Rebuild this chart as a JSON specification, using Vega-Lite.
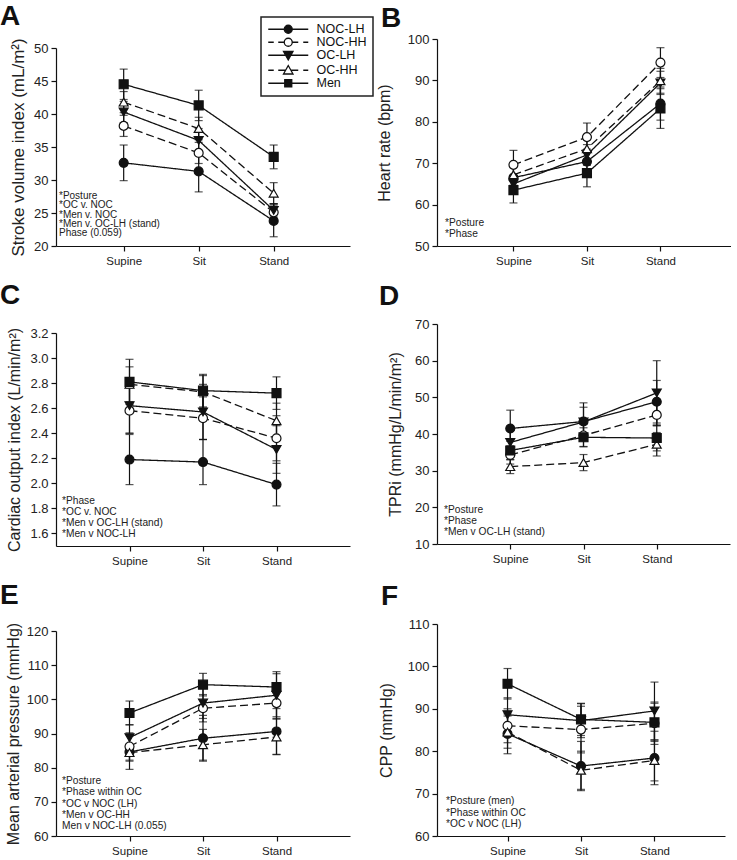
{
  "$schema": "https://vega.github.io/schema/vega-lite/v6.json",
  "background": "white",
  "padding": {"left": 0, "top": 2, "right": 0, "bottom": 0},
  "config": {
    "font": "Liberation Sans",
    "view": {"stroke": null},
    "axis": {"domainColor": "#111", "tickColor": "#111", "labelColor": "#222", "titleColor": "#222", "grid": false, "titleFontWeight": "normal", "domainWidth": 1.2, "tickWidth": 1.2, "tickSize": 5},
    "axisX": {"labelFontSize": 11.5, "labelAngle": 0, "labelPadding": 4},
    "axisY": {"labelFontSize": 13, "titleFontSize": 16, "labelPadding": 3},
    "title": {"fontSize": 28, "fontWeight": "bold", "anchor": "start", "frame": "group", "color": "#111", "baseline": "alphabetic"},
    "text": {"color": "#222", "align": "left", "baseline": "alphabetic", "fontSize": 10.2},
    "legend": {
      "orient": "none", "legendX": 205, "legendY": -22, "title": null,
      "strokeColor": "#222", "padding": 6, "symbolSize": 100, "labelFontSize": 12.5, "labelColor": "#111", "labelOffset": 37, "rowPadding": -1
    }
  },
  "datasets": {
    "main": [
      {"panel":"A","posture":"Supine","group":"NOC-LH","value":32.6,"se":2.7},
      {"panel":"A","posture":"Sit","group":"NOC-LH","value":31.3,"se":3.1},
      {"panel":"A","posture":"Stand","group":"NOC-LH","value":23.8,"se":2.4},
      {"panel":"A","posture":"Supine","group":"NOC-HH","value":38.2,"se":1.6},
      {"panel":"A","posture":"Sit","group":"NOC-HH","value":34.1,"se":1.6},
      {"panel":"A","posture":"Stand","group":"NOC-HH","value":25.1,"se":1.3},
      {"panel":"A","posture":"Supine","group":"OC-LH","value":40.3,"se":1.6},
      {"panel":"A","posture":"Sit","group":"OC-LH","value":36.0,"se":1.8},
      {"panel":"A","posture":"Stand","group":"OC-LH","value":25.4,"se":1.0},
      {"panel":"A","posture":"Supine","group":"OC-HH","value":41.8,"se":1.6},
      {"panel":"A","posture":"Sit","group":"OC-HH","value":37.8,"se":1.7},
      {"panel":"A","posture":"Stand","group":"OC-HH","value":28.0,"se":1.6},
      {"panel":"A","posture":"Supine","group":"Men","value":44.5,"se":2.3},
      {"panel":"A","posture":"Sit","group":"Men","value":41.3,"se":2.3},
      {"panel":"A","posture":"Stand","group":"Men","value":33.5,"se":1.8},

      {"panel":"B","posture":"Supine","group":"NOC-LH","value":66.5,"se":2.5},
      {"panel":"B","posture":"Sit","group":"NOC-LH","value":70.4,"se":3.0},
      {"panel":"B","posture":"Stand","group":"NOC-LH","value":84.4,"se":4.0},
      {"panel":"B","posture":"Supine","group":"NOC-HH","value":69.6,"se":3.5},
      {"panel":"B","posture":"Sit","group":"NOC-HH","value":76.3,"se":3.4},
      {"panel":"B","posture":"Stand","group":"NOC-HH","value":94.3,"se":3.6},
      {"panel":"B","posture":"Supine","group":"OC-LH","value":65.0,"se":2.0},
      {"panel":"B","posture":"Sit","group":"OC-LH","value":72.0,"se":2.5},
      {"panel":"B","posture":"Stand","group":"OC-LH","value":89.4,"se":2.8},
      {"panel":"B","posture":"Supine","group":"OC-HH","value":67.2,"se":2.5},
      {"panel":"B","posture":"Sit","group":"OC-HH","value":73.5,"se":3.0},
      {"panel":"B","posture":"Stand","group":"OC-HH","value":89.9,"se":3.0},
      {"panel":"B","posture":"Supine","group":"Men","value":63.5,"se":3.1},
      {"panel":"B","posture":"Sit","group":"Men","value":67.6,"se":3.3},
      {"panel":"B","posture":"Stand","group":"Men","value":83.2,"se":4.8},

      {"panel":"C","posture":"Supine","group":"NOC-LH","value":2.19,"se":0.20},
      {"panel":"C","posture":"Sit","group":"NOC-LH","value":2.17,"se":0.18},
      {"panel":"C","posture":"Stand","group":"NOC-LH","value":1.99,"se":0.17},
      {"panel":"C","posture":"Supine","group":"NOC-HH","value":2.58,"se":0.18},
      {"panel":"C","posture":"Sit","group":"NOC-HH","value":2.52,"se":0.17},
      {"panel":"C","posture":"Stand","group":"NOC-HH","value":2.36,"se":0.18},
      {"panel":"C","posture":"Supine","group":"OC-LH","value":2.62,"se":0.22},
      {"panel":"C","posture":"Sit","group":"OC-LH","value":2.57,"se":0.22},
      {"panel":"C","posture":"Stand","group":"OC-LH","value":2.27,"se":0.19},
      {"panel":"C","posture":"Supine","group":"OC-HH","value":2.79,"se":0.14},
      {"panel":"C","posture":"Sit","group":"OC-HH","value":2.73,"se":0.13},
      {"panel":"C","posture":"Stand","group":"OC-HH","value":2.50,"se":0.14},
      {"panel":"C","posture":"Supine","group":"Men","value":2.81,"se":0.18},
      {"panel":"C","posture":"Sit","group":"Men","value":2.74,"se":0.13},
      {"panel":"C","posture":"Stand","group":"Men","value":2.72,"se":0.13},

      {"panel":"D","posture":"Supine","group":"NOC-LH","value":41.5,"se":5.0},
      {"panel":"D","posture":"Sit","group":"NOC-LH","value":43.4,"se":5.1},
      {"panel":"D","posture":"Stand","group":"NOC-LH","value":48.8,"se":5.8},
      {"panel":"D","posture":"Supine","group":"NOC-HH","value":34.3,"se":2.5},
      {"panel":"D","posture":"Sit","group":"NOC-HH","value":39.6,"se":3.0},
      {"panel":"D","posture":"Stand","group":"NOC-HH","value":45.2,"se":3.0},
      {"panel":"D","posture":"Supine","group":"OC-LH","value":37.7,"se":3.5},
      {"panel":"D","posture":"Sit","group":"OC-LH","value":43.3,"se":4.0},
      {"panel":"D","posture":"Stand","group":"OC-LH","value":51.2,"se":8.8},
      {"panel":"D","posture":"Supine","group":"OC-HH","value":31.1,"se":1.9},
      {"panel":"D","posture":"Sit","group":"OC-HH","value":32.2,"se":2.2},
      {"panel":"D","posture":"Stand","group":"OC-HH","value":37.2,"se":3.2},
      {"panel":"D","posture":"Supine","group":"Men","value":35.5,"se":2.5},
      {"panel":"D","posture":"Sit","group":"Men","value":39.1,"se":2.6},
      {"panel":"D","posture":"Stand","group":"Men","value":38.9,"se":3.5},

      {"panel":"E","posture":"Supine","group":"NOC-LH","value":84.6,"se":5.1},
      {"panel":"E","posture":"Sit","group":"NOC-LH","value":88.6,"se":6.7},
      {"panel":"E","posture":"Stand","group":"NOC-LH","value":90.6,"se":6.7},
      {"panel":"E","posture":"Supine","group":"NOC-HH","value":86.2,"se":4.0},
      {"panel":"E","posture":"Sit","group":"NOC-HH","value":97.4,"se":4.0},
      {"panel":"E","posture":"Stand","group":"NOC-HH","value":98.9,"se":4.5},
      {"panel":"E","posture":"Supine","group":"OC-LH","value":88.8,"se":3.8},
      {"panel":"E","posture":"Sit","group":"OC-LH","value":98.9,"se":4.5},
      {"panel":"E","posture":"Stand","group":"OC-LH","value":101.2,"se":6.3},
      {"panel":"E","posture":"Supine","group":"OC-HH","value":84.4,"se":2.5},
      {"panel":"E","posture":"Sit","group":"OC-HH","value":86.7,"se":4.5},
      {"panel":"E","posture":"Stand","group":"OC-HH","value":89.0,"se":5.2},
      {"panel":"E","posture":"Supine","group":"Men","value":96.0,"se":3.5},
      {"panel":"E","posture":"Sit","group":"Men","value":104.3,"se":3.3},
      {"panel":"E","posture":"Stand","group":"Men","value":103.6,"se":4.5},

      {"panel":"F","posture":"Supine","group":"NOC-LH","value":84.1,"se":4.7},
      {"panel":"F","posture":"Sit","group":"NOC-LH","value":76.5,"se":5.8},
      {"panel":"F","posture":"Stand","group":"NOC-LH","value":78.4,"se":6.3},
      {"panel":"F","posture":"Supine","group":"NOC-HH","value":86.0,"se":4.0},
      {"panel":"F","posture":"Sit","group":"NOC-HH","value":85.1,"se":5.5},
      {"panel":"F","posture":"Stand","group":"NOC-HH","value":86.6,"se":5.0},
      {"panel":"F","posture":"Supine","group":"OC-LH","value":88.6,"se":4.0},
      {"panel":"F","posture":"Sit","group":"OC-LH","value":87.2,"se":4.0},
      {"panel":"F","posture":"Stand","group":"OC-LH","value":89.5,"se":6.8},
      {"panel":"F","posture":"Supine","group":"OC-HH","value":84.5,"se":3.8},
      {"panel":"F","posture":"Sit","group":"OC-HH","value":75.5,"se":4.5},
      {"panel":"F","posture":"Stand","group":"OC-HH","value":77.8,"se":4.8},
      {"panel":"F","posture":"Supine","group":"Men","value":95.9,"se":3.6},
      {"panel":"F","posture":"Sit","group":"Men","value":87.5,"se":3.8},
      {"panel":"F","posture":"Stand","group":"Men","value":86.8,"se":4.5}
    ]
  },
  "bounds": "flush",
  "columns": 2,
  "spacing": {"row": 78, "column": 87},
  "concat": [
    {
      "width": 294, "height": 207,
      "title": {"text": "A", "dx": -56, "offset": 7},
      "data": {"name": "main"},
      "transform": [{"filter": "datum.panel === 'A'"}],
      "encoding": {
        "x": {"field": "posture", "type": "ordinal", "sort": ["Supine","Sit","Stand"], "scale": {"type": "point", "padding": 0.96, "align": 0.47}, "axis": {"title": null}},
        "y": {"field": "value", "type": "quantitative", "scale": {"domain": [20, 50], "range": [207, 9], "nice": false, "zero": false}, "axis": {"values": [20,25,30,35,40,45,50], "title": "Stroke volume index (mL/m²)", "titlePadding": 6, "titleFontSize": 17}}
      },
      "layer": [
        {"mark": {"type": "errorbar", "color": "#111", "ticks": {"size": 8, "thickness": 1.2}, "rule": {"strokeWidth": 1.2}}, "encoding": {"yError": {"field": "se"}}},
        {"mark": {"type": "line", "color": "#111", "strokeWidth": 1.3}, "encoding": {"detail": {"field": "group"}, "strokeDash": {"condition": {"test": "datum.group === 'NOC-HH' || datum.group === 'OC-HH'", "value": [8,4]}, "value": [1,0]}}},
        {"mark": {"type": "point", "filled": true, "size": 80, "stroke": "#111", "strokeWidth": 1.2},
         "encoding": {
           "shape": {"condition": [{"test": "datum.group === 'NOC-LH' || datum.group === 'NOC-HH'", "value": "circle"}, {"test": "datum.group === 'OC-LH'", "value": "triangle-down"}, {"test": "datum.group === 'OC-HH'", "value": "triangle-up"}], "value": "square"},
           "fill": {"condition": {"test": "datum.group === 'NOC-HH' || datum.group === 'OC-HH'", "value": "white"}, "value": "#111"},
           "opacity": {"field": "group", "type": "nominal", "scale": {"domain": ["NOC-LH","NOC-HH","OC-LH","OC-HH","Men"], "range": [1,1,1,1,1]},
             "legend": {"encoding": {
                 "legend": {"strokeWidth": {"value": 1.5}},
                 "symbols": {
                   "shape": {"value": {"expr": "datum.value === 'NOC-LH' ? 'M-1,0H2.2M3.8,0H7M3.8,0A0.8,0.8,0,1,1,2.2,0A0.8,0.8,0,1,1,3.8,0Z' : datum.value === 'NOC-HH' ? 'M-1,0H0.1M1,0H2.1M3.9,0H5M6,0H7M3.8,0A0.8,0.8,0,1,1,2.2,0A0.8,0.8,0,1,1,3.8,0Z' : datum.value === 'OC-LH' ? 'M-1,0H7M2.05,-0.75L3.95,-0.75L3,0.95Z' : datum.value === 'OC-HH' ? 'M-1,0H0.1M1,0H2.45M3.55,0H5M6,0H7M2.05,0.75L3.95,0.75L3,-0.95Z' : 'M-1,0H7M2.3,-0.7H3.7V0.7H2.3Z'"}},
                   "fill": {"value": {"expr": "datum.value === 'NOC-HH' || datum.value === 'OC-HH' ? 'white' : '#111'"}},
                   "stroke": {"value": "#111"}, "strokeWidth": {"value": 1.3}, "size": {"value": 100}
                 }}}}
         }},
        {"data": {"values": [{"panel": "A"}]}, "mark": {"type": "text", "text": ["*Posture","*OC v. NOC","*Men v. NOC","*Men v. OC-LH (stand)","Phase (0.059)"], "fontSize": 10, "lineHeight": 9.3, "dx": 3, "dy": -47}, "encoding": {"x": {"value": 0}, "y": {"value": "height"}}}
      ]
    },
    {
      "width": 294, "height": 207,
      "title": {"text": "B", "dx": -56, "offset": 0.5},
      "data": {"name": "main"},
      "transform": [{"filter": "datum.panel === 'B'"}],
      "encoding": {
        "x": {"field": "posture", "type": "ordinal", "sort": ["Supine","Sit","Stand"], "scale": {"type": "point", "padding": 1, "align": 0.52}, "axis": {"title": null}},
        "y": {"field": "value", "type": "quantitative", "scale": {"domain": [50, 100], "nice": false, "zero": false}, "axis": {"values": [50,60,70,80,90,100], "title": "Heart rate (bpm)", "titlePadding": 15}}
      },
      "layer": [
        {"mark": {"type": "errorbar", "color": "#111", "ticks": {"size": 8, "thickness": 1.2}, "rule": {"strokeWidth": 1.2}}, "encoding": {"yError": {"field": "se"}}},
        {"mark": {"type": "line", "color": "#111", "strokeWidth": 1.3}, "encoding": {"detail": {"field": "group"}, "strokeDash": {"condition": {"test": "datum.group === 'NOC-HH' || datum.group === 'OC-HH'", "value": [8,4]}, "value": [1,0]}}},
        {"mark": {"type": "point", "filled": true, "size": 80, "stroke": "#111", "strokeWidth": 1.2, "opacity": 1},
         "encoding": {
           "shape": {"condition": [{"test": "datum.group === 'NOC-LH' || datum.group === 'NOC-HH'", "value": "circle"}, {"test": "datum.group === 'OC-LH'", "value": "triangle-down"}, {"test": "datum.group === 'OC-HH'", "value": "triangle-up"}], "value": "square"},
           "fill": {"condition": {"test": "datum.group === 'NOC-HH' || datum.group === 'OC-HH'", "value": "white"}, "value": "#111"}
         }},
        {"data": {"values": [{"panel": "B"}]}, "mark": {"type": "text", "text": ["*Posture","*Phase"], "lineHeight": 10.5, "dx": 8, "dy": -20}, "encoding": {"x": {"value": 0}, "y": {"value": "height"}}}
      ]
    },
    {
      "width": 294, "height": 222,
      "title": {"text": "C", "dx": -56, "offset": 14},
      "data": {"name": "main"},
      "transform": [{"filter": "datum.panel === 'C'"}],
      "encoding": {
        "x": {"field": "posture", "type": "ordinal", "sort": ["Supine","Sit","Stand"], "scale": {"type": "point", "padding": 1}, "axis": {"title": null}},
        "y": {"field": "value", "type": "quantitative", "scale": {"domain": [1.5, 3.2], "range": [222, 9], "nice": false, "zero": false}, "axis": {"values": [1.6,1.8,2.0,2.2,2.4,2.6,2.8,3.0,3.2], "format": ".1f", "title": "Cardiac output index (L/min/m²)", "titlePadding": 7}}
      },
      "layer": [
        {"mark": {"type": "errorbar", "color": "#111", "ticks": {"size": 8, "thickness": 1.2}, "rule": {"strokeWidth": 1.2}}, "encoding": {"yError": {"field": "se"}}},
        {"mark": {"type": "line", "color": "#111", "strokeWidth": 1.3}, "encoding": {"detail": {"field": "group"}, "strokeDash": {"condition": {"test": "datum.group === 'NOC-HH' || datum.group === 'OC-HH'", "value": [8,4]}, "value": [1,0]}}},
        {"mark": {"type": "point", "filled": true, "size": 80, "stroke": "#111", "strokeWidth": 1.2, "opacity": 1},
         "encoding": {
           "shape": {"condition": [{"test": "datum.group === 'NOC-LH' || datum.group === 'NOC-HH'", "value": "circle"}, {"test": "datum.group === 'OC-LH'", "value": "triangle-down"}, {"test": "datum.group === 'OC-HH'", "value": "triangle-up"}], "value": "square"},
           "fill": {"condition": {"test": "datum.group === 'NOC-HH' || datum.group === 'OC-HH'", "value": "white"}, "value": "#111"}
         }},
        {"data": {"values": [{"panel": "C"}]}, "mark": {"type": "text", "text": ["*Phase","*OC v. NOC","*Men v OC-LH (stand)","*Men v NOC-LH"], "lineHeight": 11, "dx": 6, "dy": -42}, "encoding": {"x": {"value": 0}, "y": {"value": "height"}}}
      ]
    },
    {
      "width": 293, "height": 220,
      "title": {"text": "D", "dx": -58, "offset": 7.5},
      "data": {"name": "main"},
      "transform": [{"filter": "datum.panel === 'D'"}],
      "encoding": {
        "x": {"field": "posture", "type": "ordinal", "sort": ["Supine","Sit","Stand"], "scale": {"type": "point", "padding": 1}, "axis": {"title": null}},
        "y": {"field": "value", "type": "quantitative", "scale": {"domain": [10, 70], "nice": false, "zero": false}, "axis": {"values": [10,20,30,40,50,60,70], "title": "TPRi (mmHg/L/min/m²)", "titlePadding": 11}}
      },
      "layer": [
        {"mark": {"type": "errorbar", "color": "#111", "ticks": {"size": 8, "thickness": 1.2}, "rule": {"strokeWidth": 1.2}}, "encoding": {"yError": {"field": "se"}}},
        {"mark": {"type": "line", "color": "#111", "strokeWidth": 1.3}, "encoding": {"detail": {"field": "group"}, "strokeDash": {"condition": {"test": "datum.group === 'NOC-HH' || datum.group === 'OC-HH'", "value": [8,4]}, "value": [1,0]}}},
        {"mark": {"type": "point", "filled": true, "size": 80, "stroke": "#111", "strokeWidth": 1.2, "opacity": 1},
         "encoding": {
           "shape": {"condition": [{"test": "datum.group === 'NOC-LH' || datum.group === 'NOC-HH'", "value": "circle"}, {"test": "datum.group === 'OC-LH'", "value": "triangle-down"}, {"test": "datum.group === 'OC-HH'", "value": "triangle-up"}], "value": "square"},
           "fill": {"condition": {"test": "datum.group === 'NOC-HH' || datum.group === 'OC-HH'", "value": "white"}, "value": "#111"}
         }},
        {"data": {"values": [{"panel": "D"}]}, "mark": {"type": "text", "text": ["*Posture","*Phase","*Men v OC-LH (stand)"], "lineHeight": 11, "dx": 7, "dy": -31}, "encoding": {"x": {"value": 0}, "y": {"value": "height"}}}
      ]
    },
    {
      "width": 294, "height": 212,
      "title": {"text": "E", "dx": -56, "offset": 12},
      "data": {"name": "main"},
      "transform": [{"filter": "datum.panel === 'E'"}],
      "encoding": {
        "x": {"field": "posture", "type": "ordinal", "sort": ["Supine","Sit","Stand"], "scale": {"type": "point", "padding": 1}, "axis": {"title": null}},
        "y": {"field": "value", "type": "quantitative", "scale": {"domain": [60, 120], "range": [212, 7], "nice": false, "zero": false}, "axis": {"values": [60,70,80,90,100,110,120], "title": "Mean arterial pressure (mmHg)", "titlePadding": 5}}
      },
      "layer": [
        {"mark": {"type": "errorbar", "color": "#111", "ticks": {"size": 8, "thickness": 1.2}, "rule": {"strokeWidth": 1.2}}, "encoding": {"yError": {"field": "se"}}},
        {"mark": {"type": "line", "color": "#111", "strokeWidth": 1.3}, "encoding": {"detail": {"field": "group"}, "strokeDash": {"condition": {"test": "datum.group === 'NOC-HH' || datum.group === 'OC-HH'", "value": [8,4]}, "value": [1,0]}}},
        {"mark": {"type": "point", "filled": true, "size": 80, "stroke": "#111", "strokeWidth": 1.2, "opacity": 1},
         "encoding": {
           "shape": {"condition": [{"test": "datum.group === 'NOC-LH' || datum.group === 'NOC-HH'", "value": "circle"}, {"test": "datum.group === 'OC-LH'", "value": "triangle-down"}, {"test": "datum.group === 'OC-HH'", "value": "triangle-up"}], "value": "square"},
           "fill": {"condition": {"test": "datum.group === 'NOC-HH' || datum.group === 'OC-HH'", "value": "white"}, "value": "#111"}
         }},
        {"data": {"values": [{"panel": "E"}]}, "mark": {"type": "text", "text": ["*Posture","*Phase within OC","*OC v NOC (LH)","*Men v OC-HH","Men v NOC-LH (0.055)"], "lineHeight": 11.25, "dx": 6, "dy": -52}, "encoding": {"x": {"value": 0}, "y": {"value": "height"}}}
      ]
    },
    {
      "width": 288, "height": 212,
      "title": {"text": "F", "dx": -56, "offset": 7.5},
      "data": {"name": "main"},
      "transform": [{"filter": "datum.panel === 'F'"}],
      "encoding": {
        "x": {"field": "posture", "type": "ordinal", "sort": ["Supine","Sit","Stand"], "scale": {"type": "point", "padding": 0.96}, "axis": {"title": null}},
        "y": {"field": "value", "type": "quantitative", "scale": {"domain": [60, 110], "nice": false, "zero": false}, "axis": {"values": [60,70,80,90,100,110], "title": "CPP (mmHg)", "titlePadding": 13}}
      },
      "layer": [
        {"mark": {"type": "errorbar", "color": "#111", "ticks": {"size": 8, "thickness": 1.2}, "rule": {"strokeWidth": 1.2}}, "encoding": {"yError": {"field": "se"}}},
        {"mark": {"type": "line", "color": "#111", "strokeWidth": 1.3}, "encoding": {"detail": {"field": "group"}, "strokeDash": {"condition": {"test": "datum.group === 'NOC-HH' || datum.group === 'OC-HH'", "value": [8,4]}, "value": [1,0]}}},
        {"mark": {"type": "point", "filled": true, "size": 80, "stroke": "#111", "strokeWidth": 1.2, "opacity": 1},
         "encoding": {
           "shape": {"condition": [{"test": "datum.group === 'NOC-LH' || datum.group === 'NOC-HH'", "value": "circle"}, {"test": "datum.group === 'OC-LH'", "value": "triangle-down"}, {"test": "datum.group === 'OC-HH'", "value": "triangle-up"}], "value": "square"},
           "fill": {"condition": {"test": "datum.group === 'NOC-HH' || datum.group === 'OC-HH'", "value": "white"}, "value": "#111"}
         }},
        {"data": {"values": [{"panel": "F"}]}, "mark": {"type": "text", "text": ["*Posture (men)","*Phase within OC","*OC v NOC (LH)"], "lineHeight": 11.5, "dx": 9, "dy": -32}, "encoding": {"x": {"value": 0}, "y": {"value": "height"}}}
      ]
    }
  ]
}
